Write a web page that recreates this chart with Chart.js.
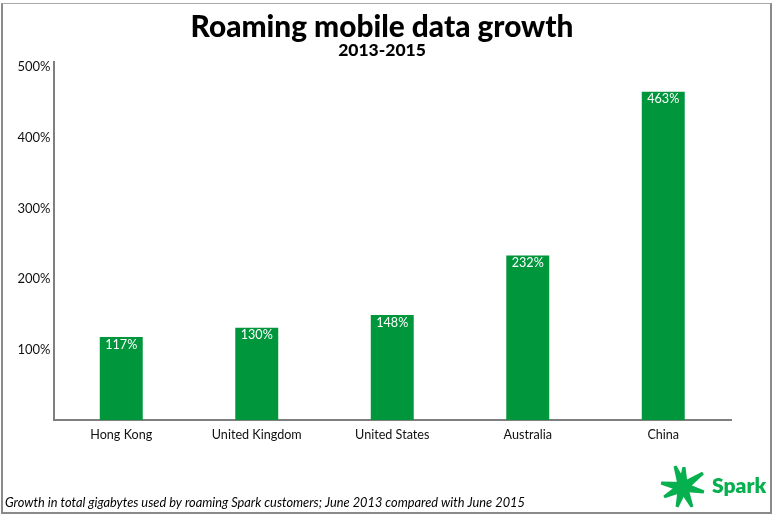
<!DOCTYPE html>
<html>
<head>
<meta charset="utf-8">
<script src="https://cdn.jsdelivr.net/npm/chart.js@4"></script>
<style>
  html, body { margin: 0; padding: 0; background: #fff; }
  #wrap { position: relative; width: 773px; height: 517px; overflow: hidden; }
  #frame { position: absolute; left: 1px; top: 3px; width: 767px; height: 508px; border: 2px solid #8a8a8a; border-top: 1px solid #a8a8a8; }
  #myChart { position: absolute; left: 0; top: 0; }
</style>
</head>
<body>
<div id="wrap">
  <div id="frame"></div>
  <canvas id="myChart" width="773" height="517"></canvas>
</div>
<script>
/* data */
const categories = ["Hong Kong", "United Kingdom", "United States", "Australia", "China"];
const growthValues = [117, 130, 148, 232, 463];
const tickValues = [100, 200, 300, 400, 500];

const FONT = "Lato, 'Open Sans', sans-serif";
const GREEN = "#00963c";
const LOGO_GREEN = "#06b04e";
const AXIS_GREY = "#7f7f7f";

/* logo star rays: tip of each ray, relative to the star centre */
const starRays = [[-8, -21], [1, -20], [20, -14], [21, 5], [9, 20], [-6, 20], [-19, 10], [-22, -4]];

/* title, footnote and logo */
const decorPlugin = {
  id: "decor",
  afterDraw(chart) {
    const ctx = chart.ctx;
    ctx.save();
    ctx.fillStyle = "#000";
    ctx.textAlign = "center";
    ctx.textBaseline = "alphabetic";
    ctx.font = "900 29.8px " + FONT;
    ctx.fillText("Roaming mobile data growth", 382, 37);
    ctx.font = "900 17.5px " + FONT;
    ctx.fillText("2013-2015", 382, 56);

    ctx.textAlign = "left";
    ctx.font = "italic 12.8px " + FONT;
    ctx.fillText("Growth in total gigabytes used by roaming Spark customers; June 2013 compared with June 2015", 5, 507);

    // logo star
    ctx.fillStyle = LOGO_GREEN;
    const cx = 683, cy = 487;
    starRays.forEach((tip) => {
      const len = Math.hypot(tip[0], tip[1]);
      const nx = -tip[1] / len * 5, ny = tip[0] / len * 5;
      ctx.beginPath();
      ctx.moveTo(cx + nx, cy + ny);
      ctx.lineTo(cx + tip[0] + nx * 0.3, cy + tip[1] + ny * 0.3);
      ctx.lineTo(cx + tip[0] - nx * 0.3, cy + tip[1] - ny * 0.3);
      ctx.lineTo(cx - nx, cy - ny);
      ctx.closePath();
      ctx.fill();
    });
    ctx.font = "800 21px " + FONT;
    ctx.fillText("Spark", 712, 493);
    ctx.restore();
  }
};

/* white value labels inside the bars */
const valueLabelPlugin = {
  id: "valueLabels",
  afterDatasetsDraw(chart) {
    const ctx = chart.ctx;
    ctx.save();
    ctx.fillStyle = "#fff";
    ctx.font = "12.6px " + FONT;
    ctx.textAlign = "center";
    ctx.textBaseline = "middle";
    chart.getDatasetMeta(0).data.forEach((bar, i) => {
      ctx.fillText(growthValues[i] + "%", bar.x, bar.y + 7.5);
    });
    ctx.restore();
  }
};

new Chart(document.getElementById("myChart"), {
  type: "bar",
  data: {
    labels: categories,
    datasets: [{
      data: growthValues,
      backgroundColor: GREEN,
      barPercentage: 0.317,
      categoryPercentage: 1
    }]
  },
  options: {
    responsive: false,
    animation: false,
    layout: { padding: { left: 0, right: 42, top: 62, bottom: 0 } },
    plugins: { legend: { display: false }, tooltip: { enabled: false } },
    scales: {
      x: {
        grid: { display: false, drawTicks: false },
        border: { color: AXIS_GREY, width: 2 },
        ticks: { color: "#111", font: { family: FONT, size: 12.6 }, padding: 7, maxRotation: 0 },
        afterFit(scale) { scale.height = 97; }
      },
      y: {
        min: 0,
        max: 505,
        afterBuildTicks(scale) { scale.ticks = tickValues.map((v) => ({ value: v })); },
        grid: { display: false, drawTicks: false },
        border: { color: AXIS_GREY, width: 2 },
        ticks: {
          color: "#111",
          font: { family: FONT, size: 13 },
          padding: 3,
          labelOffset: 1,
          callback: (v) => v + "%"
        },
        afterFit(scale) { scale.width = 53.5; }
      }
    }
  },
  plugins: [valueLabelPlugin, decorPlugin]
});
</script>
</body>
</html>
